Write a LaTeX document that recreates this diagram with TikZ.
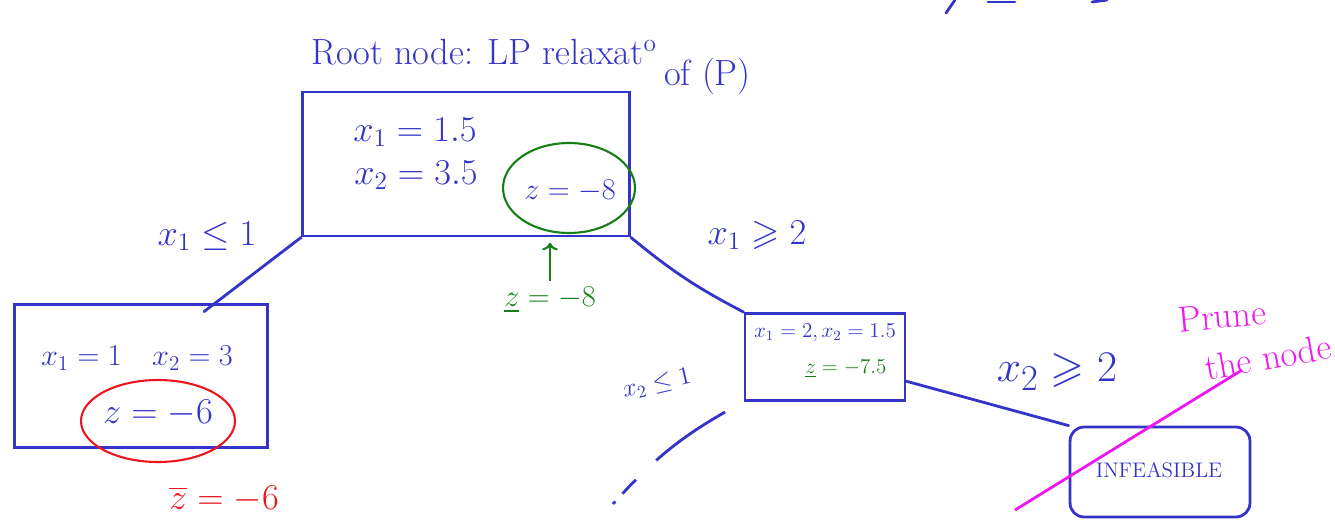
\documentclass[tikz,border=0pt]{standalone}
\usepackage{amsmath}
\usepackage{amssymb}
\usepackage{xcolor}
\usetikzlibrary{arrows.meta, positioning, calc, shapes.geometric}
\definecolor{inkblue}{RGB}{52,52,200}
\definecolor{inkgreen}{RGB}{22,128,22}
\definecolor{inkred}{RGB}{236,22,30}
\definecolor{inkpink}{RGB}{238,24,238}
\tikzset{
  bbox/.style={draw=inkblue, line width=1.6pt, rectangle, inner sep=0pt},
  ink/.style={draw=inkblue, line width=1.6pt, line cap=round},
  ring/.style={ellipse, line width=1.2pt, inner sep=0pt},
}

\begin{document}
\begin{tikzpicture}[x=0.02cm, y=-0.02cm, every node/.style={text=inkblue}]
\useasboundingbox (0,0) rectangle (1335,524);
% title
\node[font=\huge] (title) at (484,52) {Root node: LP relaxat\textsuperscript{o}};
\node[font=\huge, anchor=west] (titleof) at (658,76) {of (P)};
% cut-off strokes at the top
\draw[ink] (955,0) -- (946,13);
\draw[ink] (988,2) -- (1015,2);
\draw[ink] (1092,2) -- (1107,0);
% boxes
\node[bbox, minimum width=6.54cm, minimum height=2.88cm] (root) at (466,164) {};
\node[bbox, minimum width=5.06cm, minimum height=2.86cm] (left) at (141,376) {};
\node[bbox, minimum width=3.2cm, minimum height=1.74cm] (mid) at (825,357) {};
\node[bbox, rounded corners=8pt, minimum width=3.6cm, minimum height=1.8cm] (infeas) at (1160,472) {};
% root node
\node[font=\huge] (rxa) at (415,132) {$x_1 = 1.5$};
\node[font=\huge] (rxb) at (416,175) {$x_2 = 3.5$};
\node[font=\LARGE] (rz) at (570,191) {$z = -8$};
\node[ring, draw=inkgreen, minimum width=2.64cm, minimum height=1.8cm] (rcirc) at (569,188) {};
\node[text=inkgreen, font=\LARGE] (rbound) at (550,300) {$\underline{z} = -8$};
\draw[inkgreen, line width=1.2pt, ->, shorten >=5pt] (rbound.north) -- (rbound.north |- rcirc.south);
% left node
\node[font=\LARGE] (lx) at (137,358) {$x_1 = 1 \quad x_2 = 3$};
\node[font=\huge] (lz) at (158,413) {$z = -6$};
\node[ring, draw=inkred, minimum width=3.08cm, minimum height=1.64cm] (lcirc) at (158,421) {};
\node[text=inkred, font=\huge] (lbound) at (224,499) {$\overline{z} = -6$};
% right node
\node[font=\large] (mx) at (825,333) {$x_1 = 2, x_2 = 1.5$};
\node[text=inkgreen, font=\large] (mz) at (846,369) {$\underline{z} = -7.5$};
% infeasible node
\node[font=\large] (ix) at (1159,470) {INFEASIBLE};
% branches
\draw[ink, shorten >=-8pt] (root.south west) -- ($(left.north west)!0.79!(left.north east)$);
\node[font=\huge] (bra) at (207,236) {$x_1 \leq 1$};
\draw[ink] (root.south east) to[bend right=6] (mid.north west);
\node[font=\huge] (brb) at (757,235) {$x_1 \geqslant 2$};
\coordinate (lost) at (613,504);
\draw[ink, line cap=butt, dash pattern=on 0pt off 12pt on 48pt off 16pt on 11pt off 6pt on 5pt off 60pt]
  (mid.south west) to[bend right=10] (lost);
\node[font=\Large, rotate=13] (brc) at (657,384) {$x_2 \leq 1$};
\draw[ink] ($(mid.north east)!0.77!(mid.south east)$) -- (infeas.north west);
\node[font=\Huge] (brd) at (1057,372) {$x_2 \geqslant 2$};
% prune
\node[text=inkpink, font=\huge, rotate=5] (prune) at (1222,316) {Prune};
\node[text=inkpink, font=\huge, rotate=10] (prunb) at (1268,357) {the node};
\coordinate (strikea) at (1015,510);
\coordinate (strikeb) at (1242,370);
\draw[inkpink, line width=1.6pt] (strikea) -- (strikeb);
\end{tikzpicture}
\end{document}
